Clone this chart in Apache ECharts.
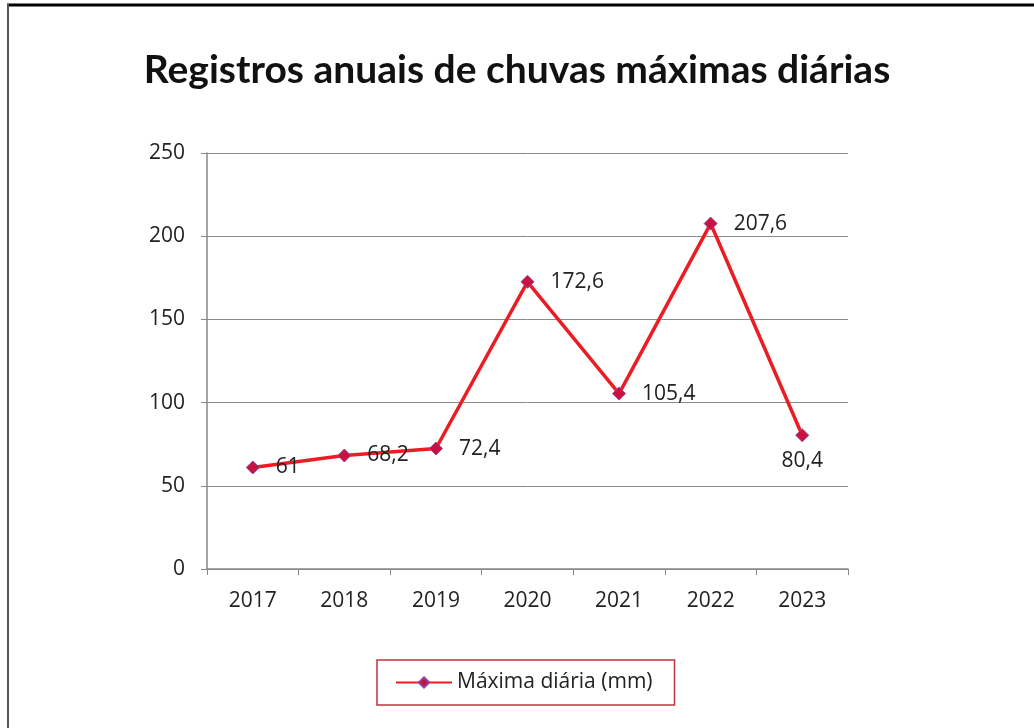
<!DOCTYPE html>
<html>
<head>
<meta charset="utf-8">
<script src="https://cdn.jsdelivr.net/npm/echarts@6/dist/echarts.min.js"></script>
<style>
  html, body { margin: 0; padding: 0; background: #fff; }
  #chart { width: 1034px; height: 728px; }
</style>
</head>
<body>
<div id="chart"></div>
<script>
var anos = ["2017", "2018", "2019", "2020", "2021", "2022", "2023"]; //categorias
var chuvaMax = [61, 68.2, 72.4, 172.6, 105.4, 207.6, 80.4]; //máxima diária (mm)
var serieNome = "Máxima diária (mm)";

var chart = echarts.init(document.getElementById("chart"));

//rótulos: o último fica abaixo do ponto
var pontos = chuvaMax.map(function(v, i) {
    var item = { value: v };
    if (i == chuvaMax.length - 1) {
        item.label = { position: "bottom", distance: 8 };
    }
    return item;
});

var fonte = "'Open Sans', 'DejaVu Sans', sans-serif";

chart.setOption({
    animation: false,
    backgroundColor: "#fff",
    title: {
        text: "Registros anuais de chuvas máximas diárias",
        left: "center",
        top: 46,
        textStyle: { fontFamily: "Lato, 'Open Sans', sans-serif", fontSize: 39, fontWeight: "bold", color: "#111" }
    },
    graphic: [
        { type: "line", shape: { x1: 7, y1: 5, x2: 1034, y2: 5 }, style: { stroke: "#000", lineWidth: 3 } },
        { type: "line", shape: { x1: 8, y1: 4, x2: 8, y2: 728 }, style: { stroke: "#555", lineWidth: 2 } }
    ],
    legend: {
        data: [serieNome],
        bottom: 23,
        left: 377,
        padding: [12, 22, 12, 18],
        borderColor: "#c0353d",
        borderWidth: 1.5,
        borderRadius: 0,
        itemWidth: 56,
        itemHeight: 13,
        itemGap: 4,
        textStyle: { fontFamily: fonte, fontSize: 21, color: "#222" }
    },
    grid: { left: 207, right: 186, top: 153, bottom: 159 },
    xAxis: {
        type: "category",
        data: anos,
        boundaryGap: true,
        axisLine: { lineStyle: { color: "#888", width: 1.5 } },
        axisTick: { show: true, alignWithLabel: false, length: 6, lineStyle: { color: "#888" } },
        axisLabel: { fontFamily: fonte, fontSize: 21, color: "#222", margin: 22 }
    },
    yAxis: {
        type: "value",
        min: 0,
        max: 250,
        interval: 50,
        axisLine: { show: true, lineStyle: { color: "#888", width: 1.5 } },
        axisTick: { show: true, length: 6, lineStyle: { color: "#888" } },
        axisLabel: { fontFamily: fonte, fontSize: 21, color: "#222", margin: 22 },
        splitLine: { lineStyle: { color: "#8c8c8c", width: 1 } }
    },
    series: [{
        name: serieNome,
        type: "line",
        data: pontos,
        symbol: "diamond",
        symbolSize: 13,
        lineStyle: { color: "#ec1c24", width: 3.5 },
        itemStyle: { color: "#cc1040", borderColor: "#8a4a9a", borderWidth: 1 },
        label: {
            show: true,
            position: "right",
            distance: 16,
            fontFamily: fonte,
            fontSize: 21,
            color: "#222",
            formatter: function(p) {
                return String(p.value).replace(".", ",");
            }
        }
    }]
});
</script>
</body>
</html>
